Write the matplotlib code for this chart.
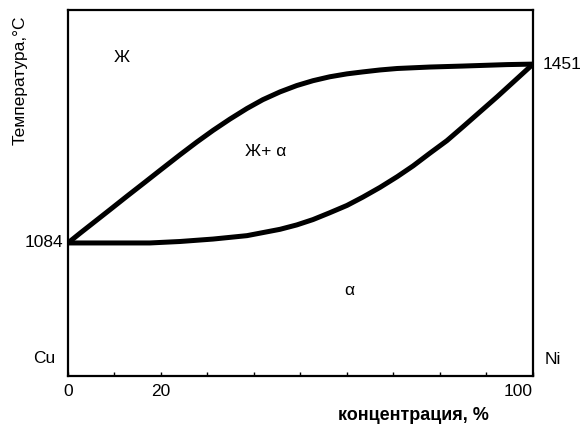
import matplotlib
matplotlib.use('Agg')
from matplotlib import pyplot as plt

plt.rcParams['font.family'] = ['Liberation Sans', 'DejaVu Sans']

# liquidus (upper curve) and solidus (lower curve)
liq_x = [0, 2.6, 5.4, 9.0, 12.7, 16.6, 19.8, 24.1, 27.7, 31.2, 34.8, 38.5, 41.9,
         45.6, 49.2, 52.7, 56.3, 60.0, 63.4, 67.1, 70.8, 77.8, 84.9, 94.4, 100]
liq_t = [1084, 1104, 1125, 1152, 1180, 1209, 1233, 1265, 1291, 1315, 1338, 1360, 1378,
         1394, 1407, 1417, 1425, 1431, 1435, 1439, 1442, 1445, 1447, 1450, 1451]

sol_x = [0, 17.6, 24.1, 31.2, 38.5, 45.6, 49.2, 52.7, 56.3, 60.0, 63.4, 67.1,
         70.8, 74.2, 77.8, 81.5, 84.9, 92.3, 100]
sol_t = [1084, 1084, 1087, 1092, 1099, 1112, 1121, 1132, 1146, 1161, 1178, 1198,
         1220, 1242, 1268, 1294, 1322, 1384, 1451]

t_cu = 1084
t_ni = 1451
xticks = list(range(0, 101, 10))
xticklabels = ['0', '', '20', '', '', '', '', '', '', '', '100']

fig = plt.figure(figsize=(5.83, 4.30), dpi=100)
ax = fig.add_axes([0.1166, 0.1256, 0.7976, 0.8511])

ax.plot(liq_x, liq_t, color='black', lw=3.6, solid_capstyle='round', solid_joinstyle='round')
ax.plot(sol_x, sol_t, color='black', lw=3.6, solid_capstyle='round', solid_joinstyle='round')

ax.set_xlim(0, 100)
ax.set_ylim(811, 1562)

for s in ax.spines.values():
    s.set_linewidth(1.6)

ax.set_xticks(xticks)
ax.set_xticklabels(xticklabels, fontsize=12.5)
ax.get_xticklabels()[-1].set_ha('right')
ax.tick_params(axis='x', direction='in', length=3, width=1, pad=6)
ax.set_yticks([])

ax.set_xlabel('концентрация, %', fontsize=13, fontweight='bold')
ax.xaxis.set_label_coords(0.742, -0.085)
ax.set_ylabel('Температура,°С', fontsize=12.5)
ax.yaxis.set_label_coords(-0.103, 0.809)
ax.yaxis.label.set_va('center')

fs = 12.5
ax.text(11.6, 1465, 'Ж', fontsize=fs, ha='center', va='center')
ax.text(42.6, 1272, 'Ж+ α', fontsize=fs, ha='center', va='center')
ax.text(60.6, 986, 'α', fontsize=fs, ha='center', va='center')

ax.text(-0.052, 0.048, 'Cu', fontsize=fs, ha='center', va='center', transform=ax.transAxes)
ax.text(1.043, 0.044, 'Ni', fontsize=fs, ha='center', va='center', transform=ax.transAxes)
ax.text(-1, t_cu, str(t_cu), fontsize=fs, ha='right', va='center')
ax.text(102, t_ni, str(t_ni), fontsize=fs, ha='left', va='center')

fig.savefig('out.png', dpi=100)
